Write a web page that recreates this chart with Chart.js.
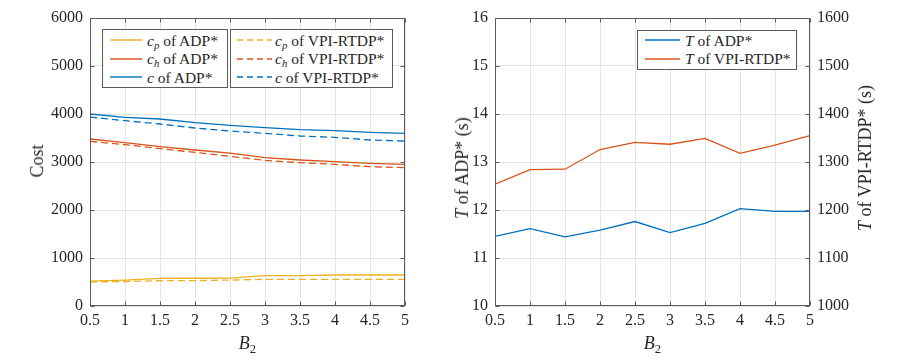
<!DOCTYPE html>
<html><head><meta charset="utf-8">
<script src="https://cdn.jsdelivr.net/npm/chart.js@4.4.1/dist/chart.umd.min.js"></script>
<style>
body{margin:0;background:#fff;width:900px;height:360px;overflow:hidden;font-family:"Liberation Serif",serif;color:#262626;position:relative}
.wrap{position:absolute;top:0;width:450px;height:360px}
canvas{display:block}
.t{position:absolute;font-size:18px;white-space:nowrap;line-height:1}
.rot{transform:translate(-50%,-50%) rotate(-90deg)}
.hc{transform:translate(-50%,-50%)}
sub{font-size:0.7em;vertical-align:-0.3em;line-height:0}
.leg{position:absolute;box-sizing:border-box;border:1px solid #5a5a5a;background:#fff;font-size:15.5px;line-height:1}
.row{display:flex;align-items:center;height:18.5px;white-space:nowrap}
.row svg{flex:none}
</style>
</head><body>
<div class="wrap" style="left:0"><canvas id="c1" width="450" height="360"></canvas></div>
<div class="wrap" style="left:450px"><canvas id="c2" width="450" height="360"></canvas></div>

<div class="t rot" style="left:37px;top:161px">Cost</div>
<div class="t hc" style="left:247.5px;top:343px"><i>B</i><sub>2</sub></div>
<div class="t hc" style="left:652.5px;top:343px"><i>B</i><sub>2</sub></div>
<div class="t rot" style="left:462px;top:168px"><i>T</i> of ADP* (s)</div>
<div class="t rot" style="left:865px;top:158px"><i>T</i> of VPI-RTDP* (s)</div>

<div id="leg1" class="leg" style="left:102px;top:29px;width:126px;height:59px;padding-top:1px"></div>
<div id="leg2" class="leg" style="left:230px;top:29px;width:163px;height:59px;padding-top:1px"></div>
<div id="leg3" class="leg" style="left:637px;top:30px;width:160px;height:40px;padding-top:0px"></div>

<script>
// ---- data ----
const B2 = [0.5, 1, 1.5, 2, 2.5, 3, 3.5, 4, 4.5, 5];
const cpADP = [520, 540, 576, 578, 580, 632, 632, 646, 646, 646];
const chADP = [3479, 3403, 3319, 3250, 3187, 3090, 3042, 3007, 2972, 2951];
const cADP  = [4000, 3930, 3896, 3819, 3764, 3715, 3674, 3653, 3618, 3597];
const cpVPI = [500, 510, 528, 530, 540, 556, 556, 556, 556, 556];
const chVPI = [3431, 3361, 3278, 3201, 3118, 3035, 2986, 2951, 2903, 2882];
const cVPI  = [3937, 3861, 3792, 3708, 3646, 3597, 3542, 3514, 3458, 3437];
const T_ADP = [11.45, 11.61, 11.44, 11.58, 11.76, 11.53, 11.72, 12.03, 11.97, 11.97];
const T_VPI = [1254, 1284, 1285, 1326, 1341, 1337, 1349, 1318, 1335, 1355];
const costRange = [0, 6000], costStep = 1000;
const tRange = [10, 16], tStep = 1;
const t2Range = [1000, 1600], t2Step = 100;
const xRange = [0.5, 5], xStep = 0.5;

const BLUE = '#0072BD', ORANGE = '#D95319', YEL = '#EDB120';
const DASH = [7, 4];
const TXT = '#262626', FRAME = '#5a5a5a', GRID = '#e4e4e4';
const FAMILY = '"Liberation Serif", serif';
const tickFont = {family: FAMILY, size: 16};

const pts = arr => B2.map((x, i) => ({x, y: arr[i]}));

const costSeries = [
  {label: 'c_p of ADP*', html: '<i>c</i><sub><i>p</i></sub> of ADP*', data: cpADP, color: YEL, dash: false},
  {label: 'c_h of ADP*', html: '<i>c</i><sub><i>h</i></sub> of ADP*', data: chADP, color: ORANGE, dash: false},
  {label: 'c of ADP*', html: '<i>c</i> of ADP*', data: cADP, color: BLUE, dash: false},
  {label: 'c_p of VPI-RTDP*', html: '<i>c</i><sub><i>p</i></sub> of VPI-RTDP*', data: cpVPI, color: YEL, dash: true},
  {label: 'c_h of VPI-RTDP*', html: '<i>c</i><sub><i>h</i></sub> of VPI-RTDP*', data: chVPI, color: ORANGE, dash: true},
  {label: 'c of VPI-RTDP*', html: '<i>c</i> of VPI-RTDP*', data: cVPI, color: BLUE, dash: true}
];
const tSeries = [
  {label: 'T of ADP*', html: '<i>T</i> of ADP*', data: T_ADP, color: BLUE, dash: false, axis: 'y'},
  {label: 'T of VPI-RTDP*', html: '<i>T</i> of VPI-RTDP*', data: T_VPI, color: ORANGE, dash: false, axis: 'y2'}
];

function legendHTML(items, ml, len, gap) {
  return items.map(s => `<div class="row"><svg width="${len}" height="10" style="margin-left:${ml}px;margin-right:${gap}px"><line x1="0" y1="5" x2="${len}" y2="5" stroke="${s.color}" stroke-width="1.4" ${s.dash ? 'stroke-dasharray="6 4"' : ''}/></svg><span>${s.html}</span></div>`).join('');
}
document.getElementById('leg1').innerHTML = legendHTML(costSeries.slice(0, 3), 7, 32, 5);
document.getElementById('leg2').innerHTML = legendHTML(costSeries.slice(3), 6, 35, 3);
document.getElementById('leg3').innerHTML = legendHTML(tSeries, 7, 35, 5);

// frame + inward ticks
const frame = {
  id: 'frame',
  afterDraw(c) {
    const a = c.chartArea, ctx = c.ctx;
    const L = Math.round(a.left) + 0.5, R = Math.round(a.right) - 0.5, T = Math.round(a.top) + 0.5, B = Math.round(a.bottom) - 0.5;
    ctx.save();
    ctx.strokeStyle = FRAME; ctx.lineWidth = 1;
    ctx.beginPath();
    const tl = 4;
    const xs = c.scales.x;
    xs.ticks.forEach((t, i) => {
      const px = Math.round(xs.getPixelForTick(i)) + 0.5;
      ctx.moveTo(px, B); ctx.lineTo(px, B - tl);
      ctx.moveTo(px, T); ctx.lineTo(px, T + tl);
    });
    const ys = c.scales.y;
    ys.ticks.forEach((t, i) => {
      const py = Math.round(ys.getPixelForTick(i)) + 0.5;
      ctx.moveTo(L, py); ctx.lineTo(L + tl, py);
      if (!c.scales.y2) { ctx.moveTo(R, py); ctx.lineTo(R - tl, py); }
    });
    if (c.scales.y2) {
      const y2 = c.scales.y2;
      y2.ticks.forEach((t, i) => {
        const py = Math.round(y2.getPixelForTick(i)) + 0.5;
        ctx.moveTo(R, py); ctx.lineTo(R - tl, py);
      });
    }
    ctx.stroke();
    ctx.strokeRect(L, T, R - L, B - T);
    ctx.restore();
  }
};

const fmt = v => String(v);
function xScale() {
  return {
    type: 'linear', min: xRange[0], max: xRange[1],
    ticks: {stepSize: xStep, callback: fmt, font: tickFont, color: TXT, padding: 5, maxRotation: 0, autoSkip: false},
    grid: {color: GRID, drawTicks: false, lineWidth: 1},
    border: {display: false},
    afterFit(s) { s.height = 54; }
  };
}
function yScale(range, step, width, pos, grid) {
  return {
    type: 'linear', min: range[0], max: range[1], position: pos,
    ticks: {stepSize: step, callback: fmt, font: tickFont, color: TXT, padding: 7},
    grid: {display: grid, color: GRID, drawTicks: false},
    border: {display: false},
    afterFit(s) { s.width = width; }
  };
}
const common = {
  responsive: false, animation: false,
  plugins: {legend: {display: false}, tooltip: {enabled: false}},
  elements: {point: {radius: 0}, line: {tension: 0, borderWidth: 1.3}}
};

function draw() {
  Chart.defaults.font.family = FAMILY;
  new Chart(document.getElementById('c1'), {
    type: 'line',
    data: {datasets: costSeries.map(s => ({label: s.label, data: pts(s.data), borderColor: s.color, borderDash: s.dash ? DASH : [], fill: false}))},
    options: Object.assign({}, common, {
      layout: {padding: {top: 18, right: 45, left: 0, bottom: 0}},
      scales: {x: xScale(), y: yScale(costRange, costStep, 90, 'left', true)}
    }),
    plugins: [frame]
  });

  new Chart(document.getElementById('c2'), {
    type: 'line',
    data: {datasets: tSeries.map(s => ({label: s.label, data: pts(s.data), borderColor: s.color, borderDash: s.dash ? DASH : [], fill: false, yAxisID: s.axis}))},
    options: Object.assign({}, common, {
      layout: {padding: {top: 18, right: 0, left: 0, bottom: 0}},
      scales: {
        x: xScale(),
        y: yScale(tRange, tStep, 45, 'left', true),
        y2: yScale(t2Range, t2Step, 90, 'right', false)
      }
    }),
    plugins: [frame]
  });
}
if (document.fonts && document.fonts.load) {
  Promise.all([document.fonts.load('16px "Liberation Serif"'), document.fonts.load('italic 16px "Liberation Serif"')]).then(draw, draw);
} else { draw(); }
</script>
</body></html>
